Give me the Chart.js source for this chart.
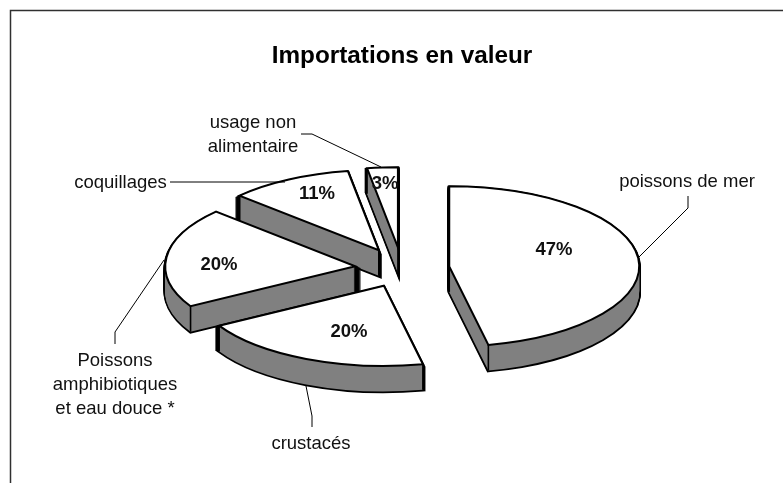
<!DOCTYPE html>
<html><head><meta charset="utf-8">
<style>html,body{margin:0;padding:0;background:#fff}#w{width:783px;height:483px;position:relative}</style>
<script src="https://cdn.jsdelivr.net/npm/chart.js@4"></script>
</head><body><div id="w"><canvas id="c" width="783" height="483"></canvas></div>
<script>
const categories = ['poissons de mer', 'crustacés', 'Poissons amphibiotiques et eau douce *', 'coquillages', 'usage non alimentaire'];
const values = [46.7, 20, 20.2, 10.5, 2.6];
const explode = [47.5, 44.5, 47, 49, 50];
const paintOrder = [4, 3, 2, 0, 1];

const TILT = 0.4226, DEPTH = 25.5, CY = 268.5, FONT = '"Liberation Sans", Arial, sans-serif';
const calloutText = [
  {lines: ['poissons de mer'], x: 687, y: 182},
  {lines: ['crustacés'], x: 311, y: 444},
  {lines: ['Poissons', 'amphibiotiques', 'et eau douce *'], x: 115, y: 361},
  {lines: ['coquillages'], x: 120.5, y: 183},
  {lines: ['usage non', 'alimentaire'], x: 253, y: 123}
];
const calloutLine = [
  [[688,196],[688,208],[639,257]],
  [[312,427],[312,416],[306,386]],
  [[115,344],[115,332],[164,260]],
  [[170,182],[285,182]],
  [[301,134],[312,134],[381,167]]
];
const pctPos = [[554,250],[349,332],[219,265],[317,194],[385,184]];

const pie3d = {
  id: 'pie3d',
  beforeDraw(chart) {
    const c = chart.ctx;
    c.save();
    c.fillStyle = '#fff'; c.fillRect(0, 0, chart.width, chart.height);
    c.strokeStyle = '#303030'; c.lineWidth = 1.5;
    c.beginPath(); c.moveTo(10.5, chart.height); c.lineTo(10.5, 10.5); c.lineTo(chart.width, 10.5); c.stroke();
    c.restore();
  },
  beforeDatasetsDraw(chart) {
    const c = chart.ctx, arcs = chart.getDatasetMeta(0).data;
    c.stroke = function () {
      const t = c.getTransform();
      c.setTransform(1, 0, 0, 1, 0, 0);
      CanvasRenderingContext2D.prototype.stroke.call(c);
      c.setTransform(t);
    };
    const place = (arc, i, dy) => {
      const mid = (arc.startAngle + arc.endAngle) / 2;
      c.translate(arc.x, CY + dy);
      c.scale(1, TILT);
      c.translate(-arc.x, -arc.y);
      c.translate(Math.cos(mid) * explode[i], Math.sin(mid) * explode[i]);
    };
    const drawAs = (arc, i, dy, over) => {
      const ghost = Object.create(arc);
      ghost.options = Object.assign({}, arc.options, over);
      c.save(); place(arc, i, dy); ghost.draw(c); c.restore();
    };
    paintOrder.forEach(i => {
      const arc = arcs[i];
      for (let d = DEPTH; d >= 1; d--) drawAs(arc, i, d, {backgroundColor: '#808080', borderColor: '#000', borderWidth: 3.6});
      for (let d = DEPTH; d >= 1; d--) drawAs(arc, i, d, {backgroundColor: '#808080', borderWidth: 0});
      const mid = (arc.startAngle + arc.endAngle) / 2;
      const ax = arc.x + Math.cos(mid) * explode[i], ay = CY + Math.sin(mid) * explode[i] * TILT;
      const R = arc.outerRadius;
      const pts = [[ax, ay],
        [ax + Math.cos(arc.startAngle) * R, ay + Math.sin(arc.startAngle) * R * TILT],
        [ax + Math.cos(arc.endAngle) * R, ay + Math.sin(arc.endAngle) * R * TILT]];
      c.save();
      c.strokeStyle = '#000'; c.lineWidth = 1.6;
      pts.forEach(p => { c.beginPath(); c.moveTo(p[0], p[1]); c.lineTo(p[0], p[1] + DEPTH); c.stroke(); });
      c.restore();
      drawAs(arc, i, 0, {});
    });
    delete c.stroke;
    return false;
  },
  afterDraw(chart) {
    const c = chart.ctx;
    c.save();
    c.strokeStyle = '#000'; c.lineWidth = 1;
    calloutLine.forEach(l => {
      c.beginPath(); l.forEach((p, j) => j ? c.lineTo(p[0], p[1]) : c.moveTo(p[0], p[1])); c.stroke();
    });
    c.fillStyle = '#111'; c.textAlign = 'center'; c.textBaseline = 'middle';
    c.font = '18.5px ' + FONT;
    calloutText.forEach(t => t.lines.forEach((s, j) => c.fillText(s, t.x, t.y + j * 24)));
    c.font = 'bold 18.5px ' + FONT;
    values.forEach((v, i) => c.fillText(Math.round(v) + '%', pctPos[i][0], pctPos[i][1]));
    c.restore();
  }
};

new Chart(document.getElementById('c'), {
  type: 'pie',
  data: {labels: categories, datasets: [{data: values, backgroundColor: '#fff', borderColor: '#000', borderWidth: 2, borderJoinStyle: 'miter'}]},
  options: {
    responsive: false, animation: false, radius: 190,
    layout: {padding: {left: 21, top: 42}},
    plugins: {
      legend: {display: false}, tooltip: {enabled: false},
      title: {display: true, text: 'Importations en valeur', color: '#000', padding: 0, font: {family: FONT, size: 24.3, weight: 'bold'}}
    }
  },
  plugins: [pie3d]
});
</script></body></html>
